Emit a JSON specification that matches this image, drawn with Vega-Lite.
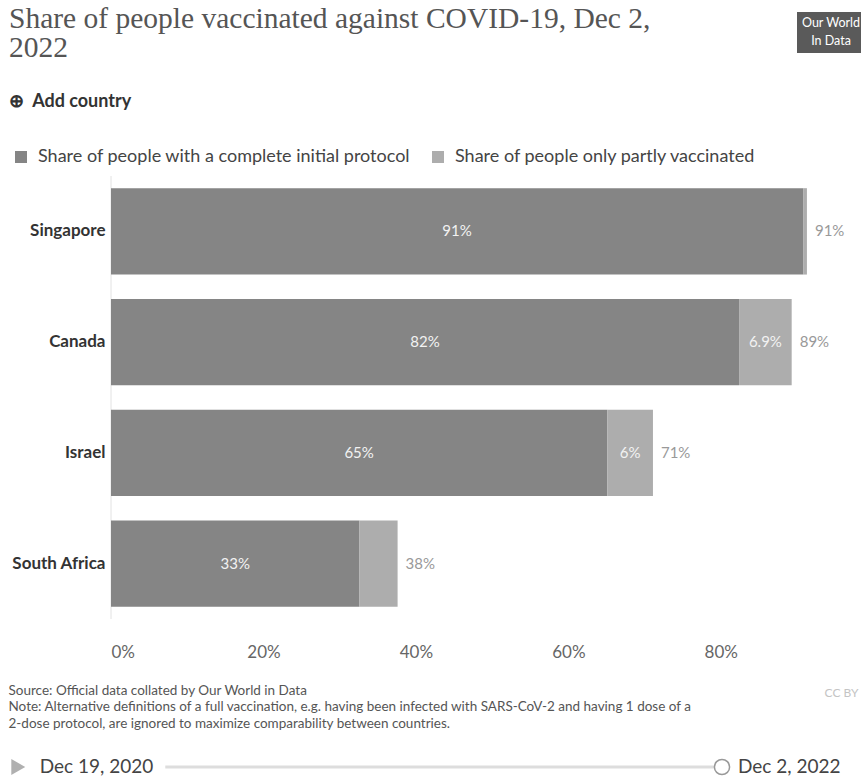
{
  "$schema": "https://vega.github.io/schema/vega-lite/v6.json",
  "background": "white",
  "padding": {"left": 8, "top": 3, "right": 2, "bottom": 2},
  "bounds": "flush",
  "spacing": 138,
  "title": {
    "text": ["Share of people vaccinated against COVID-19, Dec 2,", "2022"],
    "subtitle": "\u00a0\u00a0⊕\u00a0\u00a0Add country",
    "anchor": "start",
    "frame": "group",
    "dx": -102,
    "font": "Liberation Serif",
    "fontSize": 29.5,
    "fontWeight": "normal",
    "color": "#555555",
    "lineHeight": 29,
    "subtitleFont": "Lato",
    "subtitleFontSize": 18,
    "subtitleFontWeight": "bold",
    "subtitleColor": "#333333",
    "subtitlePadding": 30,
    "offset": -100
  },
  "datasets": {
    "shares": [
      {"country": "Singapore", "type": "Share of people with a complete initial protocol", "value": 0.908},
      {"country": "Singapore", "type": "Share of people only partly vaccinated", "value": 0.005},
      {"country": "Canada", "type": "Share of people with a complete initial protocol", "value": 0.824},
      {"country": "Canada", "type": "Share of people only partly vaccinated", "value": 0.069},
      {"country": "Israel", "type": "Share of people with a complete initial protocol", "value": 0.651},
      {"country": "Israel", "type": "Share of people only partly vaccinated", "value": 0.060},
      {"country": "South Africa", "type": "Share of people with a complete initial protocol", "value": 0.326},
      {"country": "South Africa", "type": "Share of people only partly vaccinated", "value": 0.050}
    ]
  },
  "vconcat": [
    {
      "width": 747,
      "height": 443,
      "layer": [
        {
          "data": {"values": [{"x": 0, "source": "Our World in Data"}]},
          "mark": {"type": "rule", "strokeWidth": 1},
          "encoding": {
            "x": {"field": "x", "type": "quantitative"},
            "stroke": {
              "field": "source",
              "type": "nominal",
              "scale": {"range": ["#e2e2e2"]},
              "legend": {
                "title": ["Our World", "In Data"],
                "orient": "none",
                "legendX": 686,
                "legendY": -164,
                "values": [],
                "fillColor": "#5a5a5a",
                "padding": 5,
                "titleColor": "white",
                "titleFont": "Lato",
                "titleFontSize": 12.5,
                "titleFontWeight": "normal",
                "titleLineHeight": 18,
                "titleAlign": "center",
                "titlePadding": 0
              }
            }
          }
        },
        {
          "data": {"name": "shares"},
          "transform": [
            {"stack": "value", "groupby": ["country"], "sort": [{"field": "type", "order": "descending"}], "as": ["x0", "x1"]}
          ],
          "mark": {"type": "bar"},
          "encoding": {
            "y": {
              "field": "country",
              "type": "nominal",
              "sort": ["Singapore", "Canada", "Israel", "South Africa"],
              "scale": {"paddingInner": 0.22, "paddingOuter": 0.11},
              "axis": {
                "title": "CC BY",
                "titleAngle": 0,
                "titleX": 747,
                "titleY": 520,
                "titleAlign": "right",
                "titleBaseline": "alphabetic",
                "titleFont": "Lato",
                "titleFontSize": 12,
                "titleFontWeight": "normal",
                "titleColor": "#c4c4c4",
                "ticks": false,
                "domain": false,
                "labelFont": "Lato",
                "labelFontSize": 17,
                "labelFontWeight": "bold",
                "labelColor": "#333333",
                "labelPadding": 6
              }
            },
            "x": {
              "field": "x0",
              "type": "quantitative",
              "scale": {"domain": [0, 0.98], "nice": false},
              "axis": {
                "values": [0, 0.2, 0.4, 0.6, 0.8],
                "format": ".0%",
                "labelFont": "Lato",
                "labelFontSize": 17,
                "labelColor": "#666666",
                "labelPadding": 25,
                "labelFlush": true,
                "ticks": false,
                "domain": false,
                "grid": false,
                "title": [
                  "Source: Official data collated by Our World in Data",
                  "Note: Alternative definitions of a full vaccination, e.g. having been infected with SARS-CoV-2 and having 1 dose of a",
                  "2-dose protocol, are ignored to maximize comparability between countries."
                ],
                "titleX": -103,
                "titleY": 75,
                "titleAnchor": "start",
                "titleAlign": "left",
                "titleBaseline": "alphabetic",
                "titleFont": "Lato",
                "titleFontSize": 13.5,
                "titleFontWeight": "normal",
                "titleColor": "#555555",
                "titleLineHeight": 16.5
              }
            },
            "x2": {"field": "x1"},
            "color": {
              "field": "type",
              "type": "nominal",
              "scale": {
                "domain": ["Share of people with a complete initial protocol", "Share of people only partly vaccinated"],
                "range": ["#858585", "#adadad"]
              },
              "legend": {
                "title": null,
                "orient": "none",
                "legendX": -99,
                "legendY": -28,
                "direction": "horizontal",
                "symbolType": "square",
                "symbolSize": 144,
                "symbolStrokeWidth": 0,
                "labelFont": "Lato",
                "labelFontSize": 18,
                "labelColor": "#444444",
                "labelLimit": 600,
                "labelOffset": 8,
                "columnPadding": 18,
                "padding": 0
              }
            }
          }
        },
        {
          "data": {"name": "shares"},
          "transform": [
            {"stack": "value", "groupby": ["country"], "sort": [{"field": "type", "order": "descending"}], "as": ["x0", "x1"]},
            {"filter": "datum.value >= 0.055"},
            {"calculate": "(datum.x0 + datum.x1) / 2", "as": "mid"}
          ],
          "mark": {"type": "text", "color": "#f2f2f2", "font": "Lato", "fontSize": 15},
          "encoding": {
            "y": {"field": "country", "type": "nominal", "sort": ["Singapore", "Canada", "Israel", "South Africa"]},
            "x": {"field": "mid", "type": "quantitative"},
            "text": {"field": "value", "type": "quantitative", "format": ".2~p"}
          }
        },
        {
          "data": {"name": "shares"},
          "transform": [
            {"aggregate": [{"op": "sum", "field": "value", "as": "total"}], "groupby": ["country"]}
          ],
          "mark": {"type": "text", "align": "left", "dx": 8, "color": "#999999", "font": "Lato", "fontSize": 15},
          "encoding": {
            "y": {"field": "country", "type": "nominal", "sort": ["Singapore", "Canada", "Israel", "South Africa"]},
            "x": {"field": "total", "type": "quantitative"},
            "text": {"field": "total", "type": "quantitative", "format": ".2~p"}
          }
        }
      ]
    },
    {
      "width": 611,
      "height": 20,
      "encoding": {
        "x": {
          "field": "date",
          "type": "temporal",
          "scale": {"domain": [{"year": 2020, "month": 10, "date": 11}, {"year": 2022, "month": 12, "date": 2, "hours": 12}], "nice": false},
          "axis": null
        }
      },
      "layer": [
        {
          "data": {"values": [{"date": "2020-12-19T12:00:00"}, {"date": "2022-12-02T12:00:00"}]},
          "mark": {"type": "rule", "color": "#dddddd", "strokeWidth": 3},
          "encoding": {
            "x": {"aggregate": "min", "field": "date", "type": "temporal"},
            "x2": {"aggregate": "max", "field": "date"}
          }
        },
        {
          "data": {"values": [{"date": "2020-12-19T12:00:00"}]},
          "mark": {"type": "point", "shape": "triangle-right", "filled": true, "color": "#b0b0b0", "size": 260, "xOffset": -147, "opacity": 1}
        },
        {
          "data": {"values": [{"date": "2020-12-19T12:00:00"}]},
          "mark": {"type": "text", "align": "right", "dx": -12, "font": "Lato", "fontSize": 19, "color": "#444444"},
          "encoding": {"text": {"field": "date", "type": "temporal", "format": "%b %-d, %Y"}}
        },
        {
          "data": {"values": [{"date": "2022-12-02T12:00:00"}]},
          "mark": {"type": "point", "shape": "circle", "filled": true, "fill": "white", "stroke": "#999999", "strokeWidth": 1.5, "size": 230, "opacity": 1}
        },
        {
          "data": {"values": [{"date": "2022-12-02T12:00:00"}]},
          "mark": {"type": "text", "align": "left", "dx": 16, "font": "Lato", "fontSize": 19, "color": "#444444"},
          "encoding": {"text": {"field": "date", "type": "temporal", "format": "%b %-d, %Y"}}
        }
      ]
    }
  ],
  "config": {
    "font": "Lato",
    "view": {"stroke": null}
  }
}
